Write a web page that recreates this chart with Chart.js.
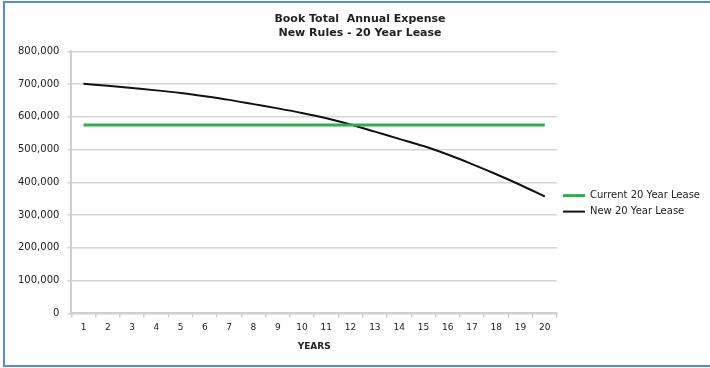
<!DOCTYPE html>
<html>
<head>
<meta charset="utf-8">
<script src="https://cdn.jsdelivr.net/npm/chart.js@4.4.1/dist/chart.umd.min.js"></script>
<style>
  html, body { margin: 0; padding: 0; background: #fff; }
  #wrap { position: relative; width: 710px; height: 368px; overflow: hidden; }
  #frame {
    position: absolute; left: 3px; top: 1px; width: 720px; height: 362px;
    border-top: 2px solid #5a8acb; border-left: 2px solid #5a8acb; border-bottom: 2px solid #5a8acb;
    pointer-events: none;
  }
  canvas { position: absolute; left: 0; top: 0; }
</style>
</head>
<body>
<div id="wrap">
  <canvas id="chart" width="710" height="368"></canvas>
  <div id="frame"></div>
</div>
<script>
// Lease years on the x axis
const years = ['1','2','3','4','5','6','7','8','9','10','11','12','13','14','15','16','17','18','19','20'];

// Annual book expense for the current lease (flat)
const currentLease = [575000,575000,575000,575000,575000,575000,575000,575000,575000,575000,
                      575000,575000,575000,575000,575000,575000,575000,575000,575000,575000];

// Annual book expense for the new lease under the new rules
const newLease = [701000,695000,688000,681000,673000,663000,652000,639000,626000,612000,
                  596000,577000,555000,533000,511000,485000,456000,425000,392000,357000];

const chartTitle = ['Book Total  Annual Expense', 'New Rules - 20 Year Lease'];
const xTitle = 'YEARS';
const seriesNames = ['Current 20 Year Lease', 'New 20 Year Lease'];

Chart.defaults.font.family = '"DejaVu Sans", sans-serif';
Chart.defaults.color = '#222';

new Chart(document.getElementById('chart'), {
  type: 'line',
  data: {
    labels: years,
    datasets: [
      {
        label: seriesNames[0],
        data: currentLease,
        borderColor: '#2fae4e',
        backgroundColor: '#2fae4e',
        borderWidth: 3,
        pointRadius: 0,
        tension: 0
      },
      {
        label: seriesNames[1],
        data: newLease,
        borderColor: '#111111',
        backgroundColor: '#111111',
        borderWidth: 2,
        pointRadius: 0,
        cubicInterpolationMode: 'monotone'
      }
    ]
  },
  options: {
    responsive: false,
    animation: false,
    layout: { padding: { left: 10, right: 0, top: 4, bottom: 16 } },
    plugins: {
      title: {
        display: true,
        text: chartTitle,
        font: { size: 11, weight: 'bold' },
        color: '#222',
        padding: { top: 9, bottom: 12 },
        lineHeight: 1.6
      },
      legend: {
        position: 'right',
        // blank legend title only pushes the two entries down a little
        title: { display: true, text: ' ', font: { size: 1 }, padding: 25 },
        labels: {
          usePointStyle: true,
          pointStyle: 'line',
          pointStyleWidth: 22,
          boxHeight: 10,
          padding: 6,
          font: { size: 10 },
          color: '#222'
        }
      },
      tooltip: { enabled: false }
    },
    scales: {
      x: {
        offset: true,
        grid: {
          display: true,
          drawOnChartArea: false,
          drawTicks: true,
          tickLength: 4,
          offset: true,
          color: '#cfcfcf',
          lineWidth: 1.5
        },
        border: { display: true, color: '#cfcfcf', width: 2 },
        ticks: { font: { size: 9 }, color: '#222', maxRotation: 0, padding: 5 },
        title: {
          display: true,
          text: xTitle,
          font: { size: 9, weight: 'bold' },
          color: '#222',
          padding: { top: 3, bottom: 0 }
        }
      },
      y: {
        min: 0,
        max: 800000,
        grid: {
          color: '#d6d6d6',
          lineWidth: 1.5,
          tickLength: 4
        },
        border: { display: true, color: '#cfcfcf', width: 2 },
        ticks: {
          stepSize: 100000,
          font: { size: 10 },
          color: '#222',
          padding: 8,
          callback: v => v.toLocaleString('en-US')
        }
      }
    }
  }
});
</script>
</body>
</html>
